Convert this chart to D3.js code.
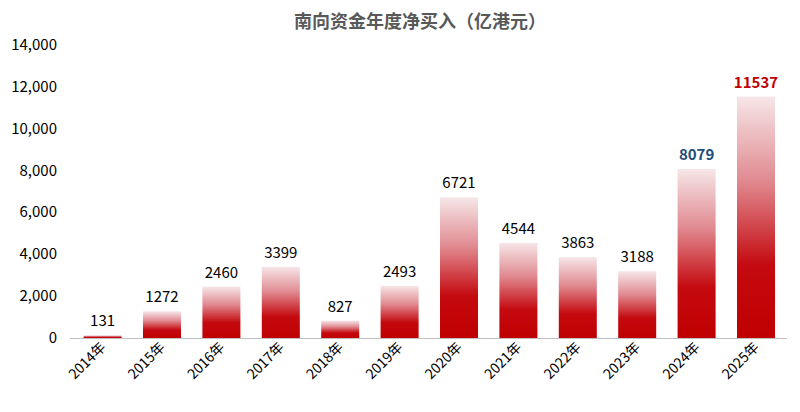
<!DOCTYPE html>
<html><head><meta charset="utf-8">
<script src="https://cdn.jsdelivr.net/npm/d3@7/dist/d3.min.js"></script>
<style>body{margin:0;background:#fff;font-family:"Noto Sans CJK SC","Noto Sans",sans-serif}</style>
</head><body><svg id="c" width="800" height="412"></svg>
<script>
const categories=["2014年","2015年","2016年","2017年","2018年","2019年","2020年","2021年","2022年","2023年","2024年","2025年"];
const values=[131,1272,2460,3399,827,2493,6721,4544,3863,3188,8079,11537];
const yTicks=[0,2000,4000,6000,8000,10000,12000,14000];
const labelColors={"2024年":"#1f4e79","2025年":"#c00000"};
const svg=d3.select("#c");
const x=d3.scaleBand().domain(categories).range([73.5,785.1]).paddingInner(0.36).paddingOuter(0.17);
const y=d3.scaleLinear().domain([0,14000]).range([338,45]);
const defs=svg.append("defs");
const g=defs.append("linearGradient").attr("id","gr").attr("x1",0).attr("y1",0).attr("x2",0).attr("y2",1);
g.append("stop").attr("offset","0%").attr("stop-color","#f6e6e8");
g.append("stop").attr("offset","35%").attr("stop-color","#e08a90");
g.append("stop").attr("offset","70%").attr("stop-color","#c40a10");
g.append("stop").attr("offset","100%").attr("stop-color","#c00000");
svg.append("text").attr("x",420).attr("y",28).attr("text-anchor","middle").attr("font-size",18).attr("font-weight","bold").attr("fill","#595959").text("南向资金年度净买入（亿港元）");
svg.append("g").selectAll("text").data(yTicks).join("text").attr("x",57).attr("y",d=>y(d)+5).attr("text-anchor","end").attr("font-size",15).attr("fill","#000").text(d=>d3.format(",")(d));
svg.append("g").selectAll("rect").data(values).join("rect").attr("x",(d,i)=>x(categories[i])).attr("width",x.bandwidth()).attr("y",d=>y(d)).attr("height",d=>338-y(d)).attr("fill","url(#gr)");
svg.append("line").attr("x1",70).attr("x2",787).attr("y1",338.5).attr("y2",338.5).attr("stroke","#bfbfbf");
svg.append("g").selectAll("text").data(values).join("text").attr("x",(d,i)=>x(categories[i])+x.bandwidth()/2).attr("y",d=>y(d)-9).attr("text-anchor","middle").attr("font-size",15)
 .attr("font-weight",(d,i)=>labelColors[categories[i]]?"bold":"normal").attr("fill",(d,i)=>labelColors[categories[i]]||"#000").text(d=>d);
svg.append("g").selectAll("text").data(categories).join("text").attr("transform",d=>`translate(${x(d)+x.bandwidth()/2+4},348) rotate(-45)`).attr("text-anchor","end").attr("font-size",14).attr("fill","#000").text(d=>d);
</script></body></html>
